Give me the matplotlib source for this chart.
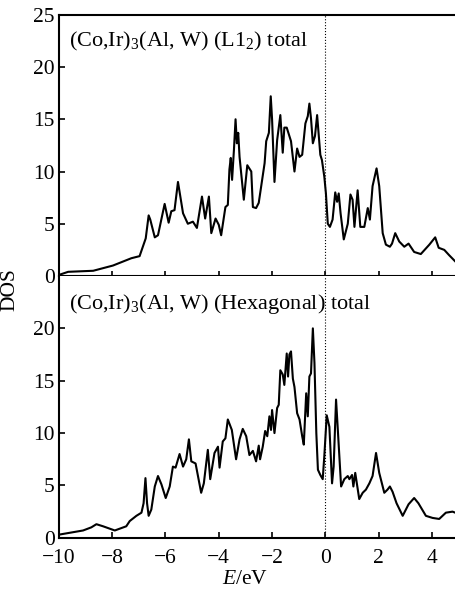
import matplotlib
matplotlib.use("Agg")
import matplotlib.pyplot as plt

plt.rcParams['font.family'] = ['Liberation Serif', 'DejaVu Serif']
plt.rcParams['mathtext.fontset'] = 'custom'
plt.rcParams['mathtext.rm'] = 'Liberation Serif'
plt.rcParams['mathtext.it'] = 'Liberation Serif:italic'

# === Total DOS, L1_2 structure ===
e_l12 = [-10.0, -9.65, -8.71, -7.97, -7.28, -6.97, -6.74, -6.63, -6.57, -6.40,
         -6.28, -6.03, -5.88, -5.78, -5.66, -5.53, -5.34, -5.16, -4.97, -4.82,
         -4.63, -4.51, -4.37, -4.28, -4.12, -4.00, -3.91, -3.75, -3.66, -3.60,
         -3.55, -3.50, -3.43, -3.37, -3.32, -3.27, -3.22, -3.06, -2.93, -2.78,
         -2.72, -2.60, -2.50, -2.28, -2.22, -2.12, -2.05, -2.00, -1.91, -1.81,
         -1.69, -1.60, -1.54, -1.45, -1.29, -1.16, -1.06, -0.97, -0.87, -0.75,
         -0.66, -0.60, -0.54, -0.47, -0.39, -0.31, -0.25, -0.19, -0.13, -0.04,
         0.02, 0.09, 0.17, 0.27, 0.37, 0.44, 0.50, 0.57, 0.69, 0.84,
         0.94, 1.02, 1.09, 1.21, 1.31, 1.46, 1.59, 1.67, 1.77, 1.92,
         2.02, 2.15, 2.27, 2.42, 2.50, 2.62, 2.77, 2.96, 3.12, 3.33,
         3.58, 3.90, 4.12, 4.25, 4.46, 4.64, 4.87]
dos_l12 = [0.1, 0.4, 0.5, 1.0, 1.7, 1.9, 3.6, 5.8, 5.4, 3.7,
           3.9, 6.9, 5.1, 6.2, 6.3, 9.0, 6.0, 5.0, 5.2, 4.6,
           7.6, 5.5, 7.6, 4.1, 5.5, 4.9, 3.9, 6.6, 6.8, 10.2,
           11.3, 9.2, 12.1, 15.0, 12.7, 13.7, 11.4, 7.3, 10.6, 10.0,
           6.6, 6.5, 7.0, 10.8, 12.9, 13.7, 17.2, 15.0, 9.0, 13.0,
           15.4, 11.8, 14.2, 14.2, 12.9, 10.0, 12.2, 11.4, 11.6, 14.6,
           15.3, 16.5, 15.1, 12.7, 13.4, 15.4, 13.5, 11.6, 11.1, 9.5,
           7.9, 5.0, 4.7, 5.4, 8.0, 7.1, 7.9, 6.0, 3.5, 5.0,
           7.8, 7.3, 4.7, 8.2, 4.7, 4.7, 6.5, 5.4, 8.6, 10.3,
           8.6, 4.1, 3.0, 2.8, 3.1, 4.1, 3.3, 2.8, 3.1, 2.3,
           2.1, 3.0, 3.7, 2.7, 2.5, 2.0, 1.4]

# === Total DOS, hexagonal structure ===
e_hex = [-10.0, -9.09, -8.78, -8.59, -8.34, -7.90, -7.47, -7.34, -7.09, -6.90,
         -6.82, -6.75, -6.69, -6.63, -6.53, -6.40, -6.28, -6.15, -5.99, -5.84,
         -5.72, -5.62, -5.47, -5.34, -5.22, -5.12, -5.03, -4.87, -4.66, -4.56,
         -4.41, -4.32, -4.16, -4.03, -3.97, -3.85, -3.75, -3.66, -3.51, -3.35,
         -3.22, -3.10, -2.97, -2.85, -2.72, -2.60, -2.50, -2.45, -2.35, -2.26,
         -2.18, -2.10, -2.04, -2.00, -1.91, -1.81, -1.75, -1.69, -1.60, -1.54,
         -1.45, -1.40, -1.35, -1.29, -1.22, -1.16, -1.06, -0.97, -0.87, -0.81,
         -0.72, -0.66, -0.60, -0.54, -0.47, -0.41, -0.34, -0.28, -0.19, -0.10,
         -0.04, 0.05, 0.15, 0.25, 0.31, 0.40, 0.46, 0.59, 0.71, 0.84,
         0.90, 1.00, 1.05, 1.12, 1.27, 1.40, 1.52, 1.65, 1.77, 1.90,
         2.02, 2.21, 2.33, 2.42, 2.52, 2.67, 2.90, 3.12, 3.33, 3.49,
         3.77, 4.02, 4.27, 4.52, 4.77, 4.87]
dos_hex = [0.3, 0.7, 1.0, 1.3, 1.1, 0.7, 1.1, 1.6, 2.1, 2.4,
           3.3, 5.7, 3.3, 2.1, 2.7, 4.9, 5.9, 5.1, 3.8, 4.9,
           6.8, 6.7, 8.0, 6.8, 7.5, 9.4, 7.3, 7.1, 4.3, 5.2,
           8.4, 5.6, 8.1, 8.7, 6.7, 9.2, 9.5, 11.3, 10.3, 7.5,
           9.4, 10.4, 9.7, 7.9, 8.3, 7.3, 8.8, 7.5, 8.7, 10.2,
           9.7, 11.6, 10.3, 12.2, 10.0, 12.4, 12.7, 16.0, 15.6, 14.6,
           17.6, 15.4, 17.5, 17.8, 15.2, 14.4, 11.9, 11.3, 9.7, 8.9,
           13.8, 11.6, 15.4, 15.7, 20.0, 16.7, 10.0, 6.5, 6.0, 5.6,
           7.8, 11.7, 10.6, 5.2, 6.8, 13.2, 10.6, 4.9, 5.6, 5.9,
           5.6, 6.0, 4.9, 6.2, 3.7, 4.3, 4.6, 5.2, 5.9, 8.1,
           6.2, 4.3, 4.6, 4.9, 4.4, 3.3, 2.1, 3.2, 3.8, 3.3,
           2.1, 1.9, 1.8, 2.4, 2.5, 2.4]

xticks = [-10, -8, -6, -4, -2, 0, 2, 4]
xticklabels = ['\u221210', '\u22128', '\u22126', '\u22124', '\u22122', '0', '2', '4']
label_top = r'(Co,Ir)$_3$(Al, W) (L1$_2$) total'
label_bot = r'(Co,Ir)$_3$(Al, W) (Hexagonal) total'

fig = plt.figure(figsize=(4.56, 5.91), dpi=100)
ax1 = fig.add_axes([0.129, 0.533, 0.871, 0.442])
ax2 = fig.add_axes([0.129, 0.090, 0.871, 0.443])

for ax, e, d, lab in [(ax1, e_l12, dos_l12, label_top), (ax2, e_hex, dos_hex, label_bot)]:
    ax.plot(e, d, color='black', lw=1.5)
    ax.axvline(0, color='black', lw=0.8, ls=':')
    ax.set_xlim(-10, 4.9)
    ax.set_ylim(0, 25)
    ax.set_xticks(xticks)
    ax.spines['right'].set_visible(False)
    for s in ['left', 'top', 'bottom']:
        ax.spines[s].set_linewidth(1.5)
    ax.tick_params(direction='in', length=4, width=1.2, labelsize=15.5, pad=3)
    ax.text(0.025, 0.94, lab, transform=ax.transAxes, ha='left', va='top', fontsize=16)

ax1.set_yticks([0, 5, 10, 15, 20, 25])
ax1.tick_params(axis='x', direction='inout', length=7, labelbottom=False)
ax2.set_yticks([0, 5, 10, 15, 20])
ax2.set_xticklabels(xticklabels)
ax2.tick_params(axis='x', pad=8)
ax2.spines['top'].set_visible(False)

fig.text(0.022, 1 - 290 / 591, 'DOS', rotation=90, ha='center', va='center', fontsize=15.5)
fig.text(0.537, 1 - 579 / 591, r'$E$/eV', ha='center', va='center', fontsize=15.5)

fig.savefig('out.png', dpi=100)
